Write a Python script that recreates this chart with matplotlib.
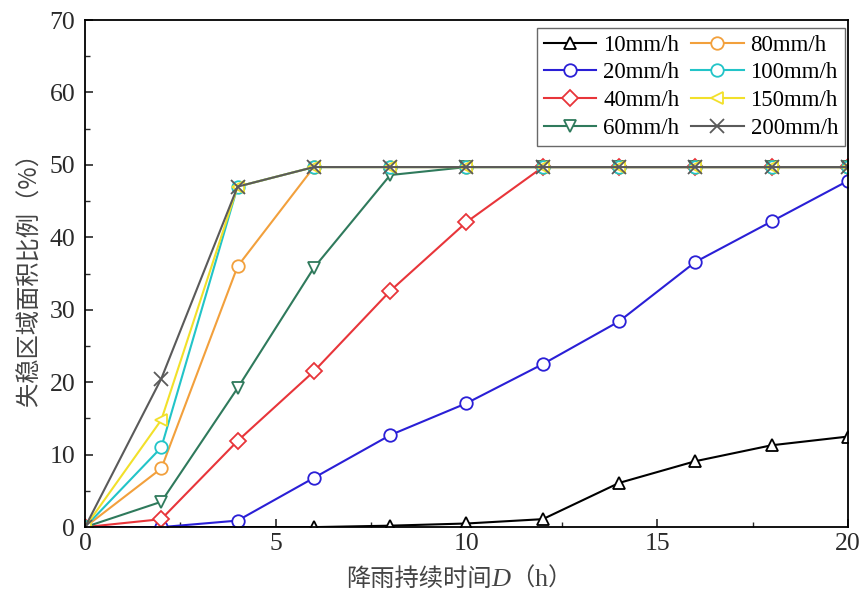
import matplotlib
matplotlib.use("Agg")
import matplotlib.pyplot as plt
from matplotlib.ticker import MultipleLocator
from matplotlib.offsetbox import TextArea, HPacker, AnchoredOffsetbox

plt.rcParams['font.family'] = ['Liberation Serif', 'Noto Sans CJK SC']

D = [0, 2, 4, 6, 8, 10, 12, 14, 16, 18, 20]
labels = ['10mm/h', '20mm/h', '40mm/h', '60mm/h', '80mm/h', '100mm/h', '150mm/h', '200mm/h']
s10 = [0, 0, 0, 0, 0.2, 0.5, 1.1, 6.1, 9.1, 11.3, 12.5]
s20 = [0, 0, 0.9, 6.8, 12.7, 17.1, 22.5, 28.4, 36.6, 42.2, 47.8]
s40 = [0, 1.1, 11.9, 21.5, 32.6, 42.1, 49.7, 49.7, 49.7, 49.7, 49.7]
s60 = [0, 3.5, 19.2, 35.8, 48.6, 49.7, 49.7, 49.7, 49.7, 49.7, 49.7]
s80 = [0, 8.1, 36.0, 49.7, 49.7, 49.7, 49.7, 49.7, 49.7, 49.7, 49.7]
s100 = [0, 11.0, 47.0, 49.7, 49.7, 49.7, 49.7, 49.7, 49.7, 49.7, 49.7]
s150 = [0, 14.8, 47.0, 49.7, 49.7, 49.7, 49.7, 49.7, 49.7, 49.7, 49.7]
s200 = [0, 20.5, 47.0, 49.7, 49.7, 49.7, 49.7, 49.7, 49.7, 49.7, 49.7]
series = [s10, s20, s40, s60, s80, s100, s150, s200]

colors = ['#000000', '#2a1fd6', '#e8353a', '#2f7a5c', '#f2a03c', '#22c4c8', '#f2e02a', '#5a5a5a']
markers = ['^', 'o', 'D', 'v', 'o', 'o', '<', 'x']
msizes = [9, 9, 8, 9, 9, 9, 9, 10]

fig = plt.figure(figsize=(8.65, 5.99), dpi=100)
ax = fig.add_axes([0.0983, 0.120, 0.882, 0.8466])

for y, lab, c, m, ms in zip(series, labels, colors, markers, msizes):
    ax.plot(D, y, color=c, marker=m, markersize=ms, markerfacecolor='white' if m != 'x' else c,
            markeredgecolor=c, markeredgewidth=1.3, linewidth=1.5, label=lab)

ax.set_xlim(0, 20)
ax.set_ylim(0, 70)
ax.xaxis.set_major_locator(MultipleLocator(5))
ax.xaxis.set_minor_locator(MultipleLocator(2.5))
ax.yaxis.set_major_locator(MultipleLocator(10))
ax.yaxis.set_minor_locator(MultipleLocator(5))
ax.tick_params(which='both', direction='in', top=False, right=False, labelsize=18.5, colors='#2a2a2a')
ax.tick_params(axis='x', which='major', pad=4)
ax.tick_params(axis='y', which='major', pad=7)
ax.tick_params(which='major', length=6, width=1.2)
ax.tick_params(which='minor', length=3.5, width=1.0)
for sp in ax.spines.values():
    sp.set_linewidth(1.3)

lab_color = '#444444'
cjk = ['Noto Sans CJK SC', 'Liberation Serif']
parts = [
    TextArea('降雨持续时间', textprops=dict(family=cjk, size=17.5, color=lab_color)),
    TextArea('D', textprops=dict(family='Liberation Serif', style='italic', size=19, color=lab_color)),
    TextArea('（', textprops=dict(family=cjk, size=17.5, color=lab_color)),
    TextArea('h', textprops=dict(family='Liberation Serif', size=19, color=lab_color)),
    TextArea('）', textprops=dict(family=cjk, size=17.5, color=lab_color)),
]
box = HPacker(children=parts, align='baseline', pad=0, sep=0)
anch = AnchoredOffsetbox(loc='upper center', child=box, frameon=False, pad=0,
                         bbox_to_anchor=(0.49, -0.076), bbox_transform=ax.transAxes, borderpad=0)
ax.add_artist(anch)

ax.set_ylabel('失稳区域面积比例（%）', fontsize=17.5, labelpad=5, color=lab_color,
              family=cjk)

leg = ax.legend(ncol=2, loc='upper right', fontsize=16.5, frameon=True, fancybox=False,
                edgecolor='#444444', handlelength=2.3, columnspacing=0.5, handletextpad=0.3,
                labelspacing=0.3, borderpad=0.3, borderaxespad=0.0,
                bbox_to_anchor=(0.996, 0.985))
leg.get_frame().set_linewidth(1.0)

fig.savefig('out.png', dpi=100)
